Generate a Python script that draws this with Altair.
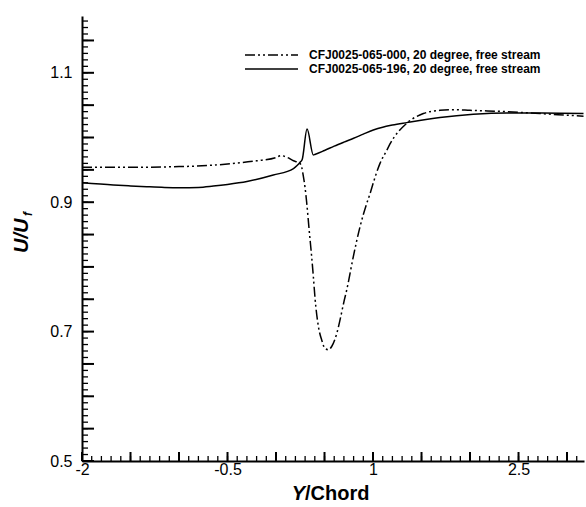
import altair as alt
import pandas as pd
import numpy as np

# ---- data ----
series_names = [
    "CFJ0025-065-000, 20 degree, free stream",
    "CFJ0025-065-196, 20 degree, free stream",
]

x_a = [-2.0, -1.5, -1.0, -0.5, -0.2, 0.0, 0.05, 0.12, 0.18, 0.22, 0.247, 0.265, 0.282,
       0.30, 0.316, 0.343, 0.368, 0.385, 0.402, 0.437, 0.471, 0.505, 0.54, 0.574,
       0.626, 0.66, 0.70, 0.73, 0.797, 0.866, 0.935, 0.969, 1.003, 1.072, 1.141,
       1.175, 1.347, 1.519, 1.69, 1.85, 2.0, 2.378, 2.72, 3.17]
y_a = [0.954, 0.954, 0.955, 0.959, 0.964, 0.969, 0.972, 0.969, 0.964, 0.962, 0.960, 0.954, 0.940,
       0.922, 0.900, 0.855, 0.815, 0.785, 0.752, 0.708, 0.687, 0.674, 0.672, 0.677,
       0.697, 0.718, 0.746, 0.765, 0.816, 0.862, 0.898, 0.913, 0.930, 0.960, 0.980,
       0.990, 1.022, 1.037, 1.042, 1.043, 1.042, 1.040, 1.037, 1.033]

x_b = [-2.0, -1.677, -1.5, -1.333, -1.15, -0.99, -0.8, -0.646, -0.5, -0.30, -0.028, 0.18,
       0.22, 0.25, 0.27, 0.32, 0.385, 0.40, 0.5, 0.6, 0.7, 0.8, 0.9, 1.003, 1.1, 1.2,
       1.347, 1.69, 2.034, 2.378, 2.75, 3.17]
y_b = [0.930, 0.9266, 0.9252, 0.924, 0.9229, 0.9225, 0.9229, 0.925, 0.9275, 0.932, 0.942,
       0.952, 0.957, 0.962, 0.966, 1.013, 0.973, 0.9738, 0.980, 0.9866, 0.9928, 0.9988,
       1.0053, 1.0116, 1.016, 1.0192, 1.023, 1.031, 1.036, 1.038, 1.038, 1.037]

x_label_values = [-2, -0.5, 1, 2.5]
y_label_values = [0.5, 0.7, 0.9, 1.1]

x_major_ticks = [round(v, 2) for v in np.arange(-2.0, 3.01, 0.5)]
x_minor_ticks = [round(v, 2) for v in np.arange(-2.0, 3.175, 0.1)]
y_major_ticks = [round(v, 3) for v in np.arange(0.5, 1.151, 0.05)]
y_minor_ticks = [round(v, 3) for v in np.arange(0.5, 1.1875, 0.01)]

# ---- layout ----
W, H = 502, 445
XDOM = [-2.0, 3.175]
YDOM = [0.5, 1.1878]
FONT = "Liberation Sans"

xs = alt.Scale(domain=XDOM, nice=False, zero=False)
ys = alt.Scale(domain=YDOM, nice=False, zero=False)

df_a = pd.DataFrame({"x": x_a, "y": y_a})
df_b = pd.DataFrame({"x": x_b, "y": y_b})

x_axis = alt.Axis(values=x_label_values, title=None, grid=False, tickSize=0, ticks=False,
                  domainColor="black", domainWidth=2, labelColor="black", labelFlush=False,
                  labelFont=FONT, labelFontSize=16, labelPadding=0,
                  labelExpr="'' + datum.value")
y_axis = alt.Axis(values=y_label_values, title=None, grid=False, tickSize=0, ticks=False,
                  domainColor="black", domainWidth=2, labelColor="black", labelFlush=False,
                  labelFont=FONT, labelFontSize=16, labelPadding=10,
                  labelExpr="'' + datum.value")

X = alt.X("x:Q", scale=xs, axis=x_axis)
Y = alt.Y("y:Q", scale=ys, axis=y_axis)

line_a = alt.Chart(df_a).mark_line(
    color="black", strokeWidth=1.5, strokeDash=[10, 3, 2, 3, 2, 3], interpolate="monotone"
).encode(x=X, y=Y)
line_b = alt.Chart(df_b).mark_line(
    color="black", strokeWidth=1.5, interpolate="monotone"
).encode(x=X, y=Y)

# inward ticks (Tecplot style)
xmaj = alt.Chart(pd.DataFrame({"x": x_major_ticks})).mark_rule(color="black", strokeWidth=2).encode(
    x=X, y=alt.value(H), y2=alt.value(H - 9))
xmin = alt.Chart(pd.DataFrame({"x": x_minor_ticks})).mark_rule(color="black", strokeWidth=1.3).encode(
    x=X, y=alt.value(H), y2=alt.value(H - 5))
ymaj = alt.Chart(pd.DataFrame({"y": y_major_ticks})).mark_rule(color="black", strokeWidth=2).encode(
    y=Y, x=alt.value(0), x2=alt.value(12))
ymin = alt.Chart(pd.DataFrame({"y": y_minor_ticks})).mark_rule(color="black", strokeWidth=1.3).encode(
    y=Y, x=alt.value(0), x2=alt.value(6))

one = pd.DataFrame({"k": [0]})

def txt(s, x, y, size, style="normal", weight="bold", align="left", angle=0, baseline="alphabetic"):
    kw = dict(text=s, font=FONT, fontSize=size, fontWeight=weight, fontStyle=style,
              align=align, baseline=baseline, color="black")
    if angle:
        kw["angle"] = angle
    return alt.Chart(one).mark_text(**kw).encode(x=alt.value(x), y=alt.value(y))

# axis titles
xt1 = txt("Y", 223, 484, 20, style="italic", align="right")
xt2 = txt("/Chord", 223, 484, 20, align="left")
yt1 = txt("U/U", -54, 237, 20, style="italic", angle=270)
yt2 = txt("f", -50, 200, 12, style="italic", angle=270)

# legend
leg_r1 = alt.Chart(one).mark_rule(color="black", strokeWidth=1.5, strokeDash=[10, 3, 2, 3, 2, 3]).encode(
    x=alt.value(163), x2=alt.value(216), y=alt.value(39))
leg_r2 = alt.Chart(one).mark_rule(color="black", strokeWidth=1.5).encode(
    x=alt.value(163), x2=alt.value(216), y=alt.value(53))
leg_t1 = txt(series_names[0], 227, 39, 12, baseline="middle")
leg_t2 = txt(series_names[1], 227, 53, 12, baseline="middle")

chart = alt.layer(
    line_b, line_a, xmin, xmaj, ymin, ymaj,
    xt1, xt2, yt1, yt2, leg_r1, leg_r2, leg_t1, leg_t2,
).properties(
    width=W, height=H,
    autosize=alt.AutoSizeParams(type="none"),
    padding={"left": 82, "top": 16, "right": 2, "bottom": 46},
    background="white",
).configure_view(stroke=None)

chart.save("out.html", embed_options={"renderer": "svg", "actions": False})
